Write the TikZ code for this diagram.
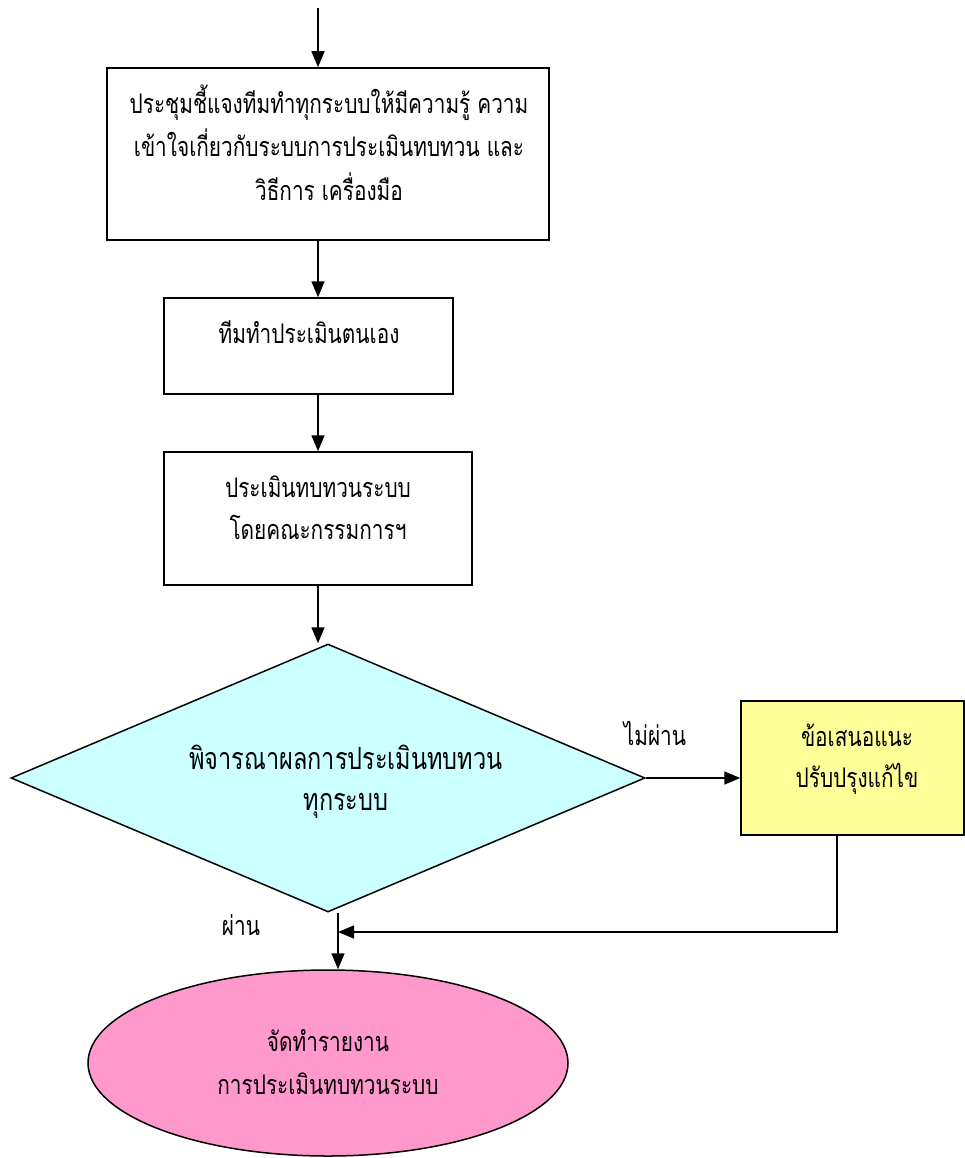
\documentclass[tikz,border=0pt]{standalone}
\usepackage{fontspec}
\usetikzlibrary{shapes.geometric,arrows.meta}
\newfontfamily\thaifont[Script=Thai,FakeStretch=0.77]{Loma}
\definecolor{cyanfill}{HTML}{CCFFFF}
\definecolor{yellowfill}{HTML}{FFFF99}
\definecolor{pinkfill}{HTML}{FF99CC}
\begin{document}
\begin{tikzpicture}[x=1pt,y=-1pt,
  box/.style={draw, line width=1.5pt, rectangle, inner sep=0pt},
  txt/.style={font=\thaifont\fontsize{27}{31}\selectfont, inner sep=0pt, anchor=center},
  bigtxt/.style={font=\thaifont\fontsize{30.5}{34}\selectfont, inner sep=0pt, anchor=center},
  conn/.style={line width=1.5pt, -{Triangle[width=13pt,length=16pt]}},
  plain/.style={line width=1.5pt}]
\useasboundingbox (0,0) rectangle (965,1158);
% shapes
\node[box, minimum width=442pt, minimum height=172pt] (b1) at (328,154) {};
\node[box, minimum width=289pt, minimum height=96pt] (b2) at (308.5,346) {};
\node[box, minimum width=308pt, minimum height=133pt] (b3) at (318,518.5) {};
\node[draw, line width=1.5pt, fill=cyanfill, diamond, inner sep=0pt, aspect=2.366,
      minimum width=634pt, minimum height=268pt] (d) at (328,778) {};
\node[box, fill=yellowfill, minimum width=223pt, minimum height=134pt] (y) at (852.5,768) {};
\node[draw, line width=1.5pt, fill=pinkfill, ellipse, inner sep=0pt,
      minimum width=480pt, minimum height=186pt] (e) at (328,1063) {};
% texts
\node[txt] (t1a) at (329,103) {ประชุมชี้แจงทีมทำทุกระบบให้มีความรู้ ความ};
\node[txt] (t1b) at (329,143) {เข้าใจเกี่ยวกับระบบการประเมินทบทวน และ};
\node[txt] (t1c) at (329,187) {วิธีการ เครื่องมือ};
\node[txt] (t2) at (309,332) {ทีมทำประเมินตนเอง};
\node[txt] (t3a) at (318,487) {ประเมินทบทวนระบบ};
\node[txt] (t3b) at (318,527) {โดยคณะกรรมการฯ};
\node[bigtxt] (tda) at (346,757) {พิจารณาผลการประเมินทบทวน};
\node[bigtxt] (tdb) at (346,806) {ทุกระบบ};
\node[txt] (tya) at (857,735) {ข้อเสนอแนะ};
\node[txt] (tyb) at (857,779) {ปรับปรุงแก้ไข};
\node[txt] (tea) at (328,1041) {จัดทำรายงาน};
\node[txt] (teb) at (328,1084) {การประเมินทบทวนระบบ};
\node[txt] (no) at (655,733) {ไม่ผ่าน};
\node[txt] (yes) at (241,925) {ผ่าน};
% connectors
\coordinate (start) at (318,8);
\coordinate (m) at (338,932);
\draw[conn] (start) -- (b1.north -| start);
\draw[conn] (b1.south -| start) -- (b2.north -| start);
\draw[conn] (b2.south -| start) -- (b3.north -| start);
\draw[conn] (b3.south -| start) -- (d.north -| start);
\draw[conn] (d.east) -- (y.west |- d.east);
\draw[plain] (d.south -| m) -- (m);
\draw[conn] (m) -- (e.north -| m);
\draw[conn] (y.south -| 837,0) |- (m);
\end{tikzpicture}
\end{document}
